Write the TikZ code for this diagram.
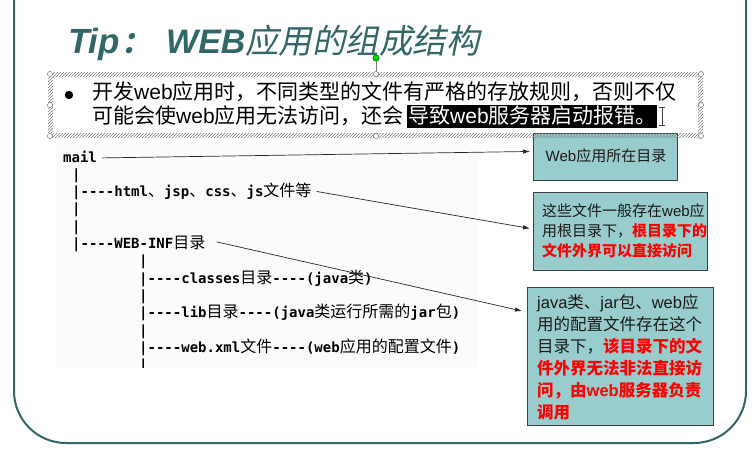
\documentclass[tikz,border=0pt]{standalone}
\usepackage{fontspec}
\setmainfont{Liberation Sans}
\newfontfamily\cjk{Noto Sans CJK SC}
\newfontfamily\cjksl[FakeSlant=0.2]{Noto Sans CJK SC}
\newfontfamily\latf{Liberation Sans}
\newfontfamily\mono{DejaVu Sans Mono}
\usetikzlibrary{arrows.meta,patterns}
\definecolor{frameteal}{RGB}{51,102,102}
\definecolor{boxfill}{RGB}{153,204,204}
\definecolor{alert}{RGB}{255,0,0}
% Latin run inside Chinese text
\newcommand\ltn[1]{{\latf #1}}
% Chinese run inside the monospaced tree
\newcommand\zh[1]{{\cjk\mdseries\fontsize{16}{16}\selectfont #1}}
% red bold emphasis
\newcommand\hot[1]{{\color{alert}\bfseries #1}}
\begin{document}
\begin{tikzpicture}[x=1pt,y=-1pt,
  treeline/.style={anchor=base west, inner sep=0pt, font=\mono\bfseries\fontsize{14}{14}\selectfont},
  bodyline/.style={anchor=base west, inner sep=0pt, font=\cjk\fontsize{21}{21}\selectfont},
  callout/.style={draw=black!75, line width=0.9pt, fill=boxfill, inner sep=0pt, anchor=north west},
  boxline/.style={anchor=base west, inner sep=0pt, text=black!90, font=\cjk\fontsize{15}{15}\selectfont},
  boxlinebig/.style={anchor=base west, inner sep=0pt, text=black!90, font=\cjk\fontsize{16.5}{16.5}\selectfont},
  link/.style={-{Latex[length=7pt,width=4.5pt]}, line width=0.7pt, black!85},
  handle/.style={draw=gray, fill=white, line width=0.5pt}]
\useasboundingbox (0,0) rectangle (755,451);

% slide frame
\draw[frameteal, line width=2pt] (14,0) -- (14,391)
  arc[start angle=180, end angle=90, radius=52] -- (694,443)
  arc[start angle=90, end angle=0, radius=52] -- (746,0);

% title
\node (tip) [anchor=base west, inner sep=0pt, text=frameteal,
  font=\latf\bfseries\itshape\fontsize{35}{35}\selectfont] at (68,53) {Tip};
\node (colon) [anchor=base west, inner sep=0pt, text=frameteal,
  font=\cjksl\bfseries\fontsize{30}{30}\selectfont] at (121,53) {：};
\node (web) [anchor=base west, inner sep=0pt, text=frameteal,
  font=\latf\bfseries\itshape\fontsize{34}{34}\selectfont] at (166,53) {WEB};
\node (titlezh) [anchor=base west, inner sep=0pt, text=frameteal,
  font=\cjksl\fontsize{33.5}{33.5}\selectfont] at (245,53) {应用的组成结构};

% directory tree
\fill[black!1.5] (56,143) rectangle (478,367);
\node (tmail) [treeline] at (63,162) {mail};
\node (tp1) [treeline] at (72,179.3) {|};
\node (thtml) [treeline] at (72,196.6) {|----html\zh{、}jsp\zh{、}css\zh{、}js\zh{文件等}};
\node (tp2) [treeline] at (72,213.9) {|};
\node (tp3) [treeline] at (72,231.2) {|};
\node (tweb) [treeline] at (72,248.5) {|----WEB-INF\zh{目录}};
\node (tp4) [treeline] at (139,265.8) {|};
\node (tcls) [treeline] at (139,283.1) {|----classes\zh{目录}----(java\zh{类})};
\node (tp5) [treeline] at (139,300.4) {|};
\node (tlib) [treeline] at (139,317.7) {|----lib\zh{目录}----(java\zh{类运行所需的}jar\zh{包})};
\node (tp6) [treeline] at (139,335) {|};
\node (txml) [treeline] at (139,352.3) {|----web.xml\zh{文件}----(web\zh{应用的配置文件})};
\begin{scope}
  \clip (56,143) rectangle (478,367);
  \node (tp7) [treeline] at (139,369.6) {|};
\end{scope}

% callout boxes
\node (b1) [callout, minimum width=144pt, minimum height=47pt] at (533,133) {};
\node (b2) [callout, minimum width=174pt, minimum height=78pt] at (533,192) {};
\node (b3) [callout, minimum width=186pt, minimum height=138pt] at (527,287) {};

\node (b1t) [boxline, anchor=base] at (606,161) {\ltn{Web}应用所在目录};

\node (b2a) [boxline] at (542,216) {这些文件一般存在\ltn{web}应};
\node (b2b) [boxline] at (542,236) {用根目录下，\hot{根目录下的}};
\node (b2c) [boxline] at (542,256) {\hot{文件外界可以直接访问}};

\node (b3a) [boxlinebig] at (537,308) {\ltn{java}类、\ltn{jar}包、\ltn{web}应};
\node (b3b) [boxlinebig] at (537,330) {用的配置文件存在这个};
\node (b3c) [boxlinebig] at (537,352) {目录下，\hot{该目录下的文}};
\node (b3d) [boxlinebig] at (537,374) {\hot{件外界无法非法直接访}};
\node (b3e) [boxlinebig] at (537,396) {\hot{问，由\ltn{web}服务器负责}};
\node (b3f) [boxlinebig] at (537,418) {\hot{调用}};

% connectors from the tree to the notes
\draw[link] ([xshift=5pt,yshift=-1.5pt]tmail.east) -- ([xshift=-3pt,yshift=5.5pt]b1.west);
\draw[link] ([xshift=5pt]thtml.east) -- ([xshift=-3pt,yshift=3pt]b2.west);
\draw[link] ([xshift=11pt,yshift=2pt]tweb.east) -- ([xshift=-5pt,yshift=-24pt]b3.north west);

% selected text frame with hatched border and handles
\fill[pattern=north east lines, pattern color=gray, even odd rule]
  (48,72) rectangle (703,138) (53,77) rectangle (698,133);
\draw[gray, line width=0.6pt] (376,61) -- (376,72);
\filldraw[fill=green!85!black, draw=green!40!black, line width=0.5pt] (376,58) circle (3.2);
\foreach \p in {(50,74),(376,74),(701,74),(50,105),(701,105),(50,136),(376,136),(701,136)}
  \path[handle] \p circle (2.6);

% bullet paragraph
\fill (69,95) circle (4.2);
\node (l1) [bodyline] at (92,99) {开发\ltn{web}应用时，不同类型的文件有严格的存放规则，否则不仅};
\node (l2) [bodyline] at (92,123) {可能会使\ltn{web}应用无法访问，还会};
\fill[black] (407,105) rectangle (657,128);
\node (l2sel) [bodyline, text=white] at (408,123) {导致\ltn{web}服务器启动报错。};
% text cursor
\draw[black!75, line width=0.8pt] (662,107) -- (662,125)
  (659,107) -- (665,107) (659,125) -- (665,125);
\end{tikzpicture}
\end{document}
